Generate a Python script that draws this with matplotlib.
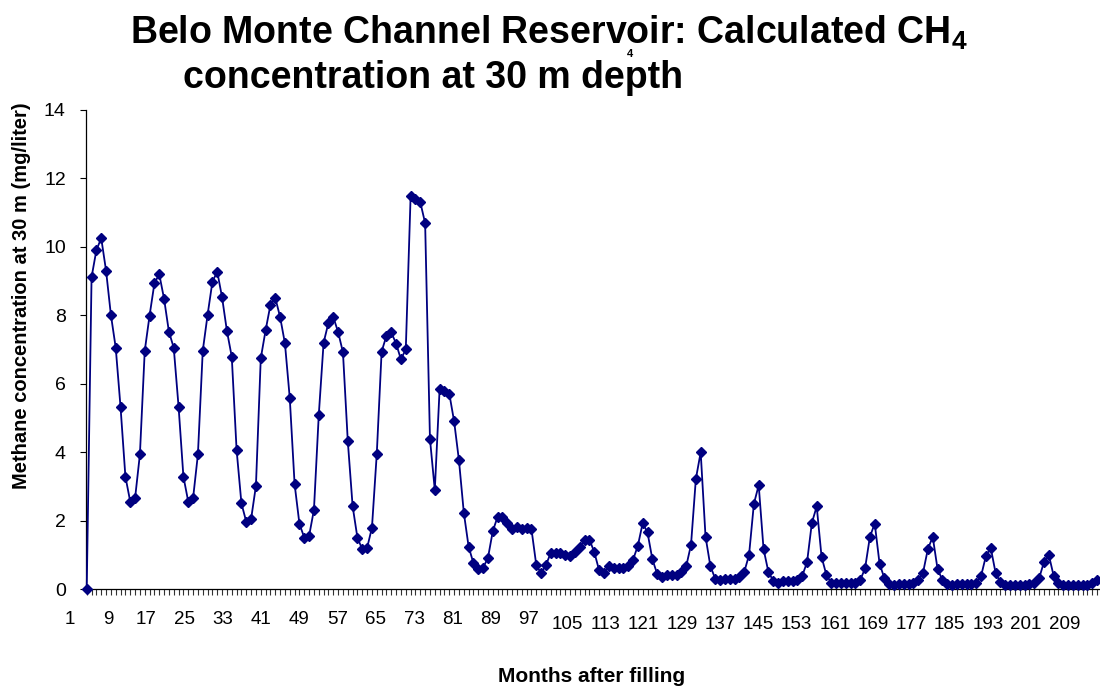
import matplotlib
matplotlib.use('Agg')
import matplotlib.pyplot as plt

# values (mg/liter at 30 m depth)
ch4 = [
    0.00, 9.11, 9.90, 10.25, 9.30, 8.01, 7.05, 5.31, 3.29, 2.56,
    2.66, 3.94, 6.96, 7.99, 8.93, 9.20, 8.48, 7.52, 7.05, 5.33,
    3.29, 2.56, 2.66, 3.94, 6.96, 8.01, 8.98, 9.27, 8.52, 7.54,
    6.79, 4.07, 2.51, 1.97, 2.05, 3.02, 6.74, 7.56, 8.30, 8.51,
    7.95, 7.18, 5.58, 3.07, 1.91, 1.51, 1.56, 2.32, 5.09, 7.20,
    7.78, 7.95, 7.51, 6.92, 4.33, 2.43, 1.50, 1.17, 1.21, 1.80,
    3.96, 6.94, 7.40, 7.50, 7.17, 6.71, 7.01, 11.49, 11.39, 11.30,
    10.69, 4.39, 2.90, 5.86, 5.79, 5.71, 4.90, 3.76, 2.24, 1.24,
    0.76, 0.59, 0.63, 0.92, 1.70, 2.12, 2.12, 1.94, 1.76, 1.83,
    1.76, 1.78, 1.75, 0.70, 0.47, 0.71, 1.07, 1.07, 1.05, 1.01,
    0.97, 1.10, 1.24, 1.43, 1.45, 1.08, 0.55, 0.49, 0.67, 0.61,
    0.61, 0.61, 0.67, 0.86, 1.27, 1.93, 1.66, 0.88, 0.45, 0.37,
    0.43, 0.43, 0.43, 0.50, 0.67, 1.30, 3.22, 4.00, 1.54, 0.68,
    0.31, 0.26, 0.30, 0.30, 0.30, 0.35, 0.50, 1.00, 2.49, 3.04,
    1.18, 0.51, 0.25, 0.19, 0.23, 0.23, 0.23, 0.27, 0.39, 0.79,
    1.94, 2.42, 0.95, 0.42, 0.19, 0.17, 0.19, 0.19, 0.19, 0.19,
    0.27, 0.61, 1.53, 1.92, 0.75, 0.32, 0.15, 0.13, 0.15, 0.15,
    0.15, 0.19, 0.27, 0.49, 1.18, 1.53, 0.59, 0.27, 0.15, 0.12,
    0.15, 0.15, 0.15, 0.15, 0.19, 0.39, 0.97, 1.21, 0.48, 0.20,
    0.12, 0.12, 0.12, 0.12, 0.12, 0.15, 0.19, 0.32, 0.79, 1.01,
    0.40, 0.18, 0.12, 0.12, 0.12, 0.12, 0.13, 0.13, 0.19, 0.27,
]
months = list(range(1, len(ch4) + 1))
month_labels = list(range(1, 210, 8))
y_ticks = list(range(0, 15, 2))

plt.rcParams['font.family'] = ['Liberation Sans', 'DejaVu Sans']
plt.rcParams['mathtext.default'] = 'regular'

navy = '#000080'

fig = plt.figure(figsize=(11, 6.92), dpi=100)
ax = fig.add_axes([86 / 1100, (692 - 589.3) / 692, (1100 - 86) / 1100, (589.3 - 109.7) / 692])

ax.plot(months, ch4, color=navy, lw=1.3, marker='D', ms=5.5,
        mec=navy, mfc=navy, clip_on=False, zorder=3)

ax.set_xlim(0.85, 210.6)
ax.set_ylim(0, 14)
ax.spines['top'].set_visible(False)
ax.spines['right'].set_visible(False)
for s in ('left', 'bottom'):
    ax.spines[s].set_linewidth(0.9)

ax.set_yticks(y_ticks)
ax.tick_params(axis='y', direction='out', length=4.5, width=0.8, pad=10, labelsize=14)

# every month gets a tick mark, labels drawn separately (Excel style offset)
ax.set_xticks(months, minor=True)
ax.set_xticks([])
ax.tick_params(axis='x', which='minor', direction='out', length=4.3, width=0.8, color='#333333')
for k in month_labels:
    pos = 1 + (k - 1) * 0.989 - 3.5
    off = -15.8 if k < 100 else -19.0
    ax.annotate(str(k), xy=(pos, 0), xycoords=('data', 'axes fraction'),
                xytext=(0, off), textcoords='offset points',
                ha='center', va='top', fontsize=13.5, annotation_clip=False)

fig.text(130 / 1100, 1 - 44 / 692, 'Belo Monte Channel Reservoir: Calculated CH$_4$',
         fontsize=27, fontweight='bold', va='baseline', ha='left')
fig.text(183 / 1100, 1 - 88 / 692, 'concentration at 30 m depth',
         fontsize=27, fontweight='bold', va='baseline', ha='left')
fig.text(630 / 1100, 1 - 54 / 692, '4', fontsize=8, fontweight='bold',
         ha='center', va='center')

fig.text(22 / 1100, 1 - 296 / 692, 'Methane concentration at 30 m (mg/liter)',
         rotation=90, fontsize=14.5, fontweight='bold', ha='center', va='center')
fig.text(592 / 1100, 1 - 677 / 692, 'Months after filling',
         fontsize=15, fontweight='bold', ha='center', va='center')

fig.savefig('out.png', dpi=100)
